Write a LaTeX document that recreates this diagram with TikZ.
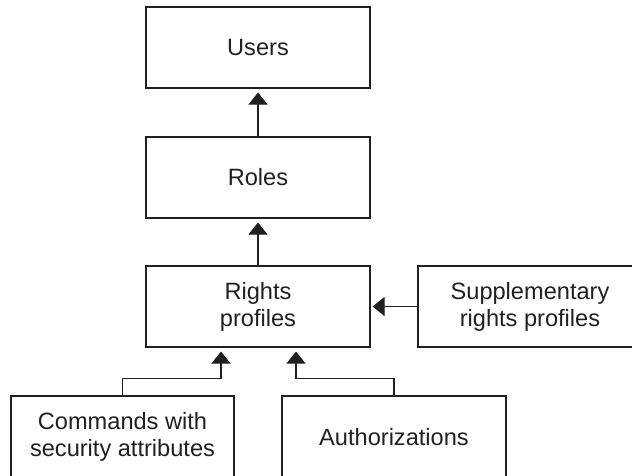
\documentclass[tikz,border=0pt]{standalone}
\usepackage{fontspec}
\setmainfont{Liberation Sans}
\usetikzlibrary{arrows.meta}
\definecolor{ink}{HTML}{231F20}
\begin{document}
\begin{tikzpicture}[x=1pt,y=-1pt,
  box/.style={draw=ink, line width=1.1pt, minimum width=224pt, minimum height=81pt,
    inner sep=0pt, align=center, text=ink, font=\fontsize{23.6}{27}\selectfont},
  link/.style={draw=ink, line width=1.1pt, -{Triangle[width=19pt,length=12pt]}, shorten >=4pt}]
\useasboundingbox (0,0) rectangle (632,475);
\clip (0,0) rectangle (632,475);
\node[box] (users) at (258,47.5) {Users};
\node[box] (roles) at (258,177.5) {Roles};
\node[box] (rights) at (258,306.5) {Rights\\profiles};
\node[box] (supp) at (530,306.5) {Supplementary\\rights profiles};
\node[box, minimum width=223pt, minimum height=82pt] (cmd) at (122.5,437) {Commands with\\security attributes};
\node[box, minimum height=82pt] (auth) at (394,437) {Authorizations};
\draw[link] (roles.north) -- (users.south);
\draw[link] (rights.north) -- (roles.south);
\draw[link, shorten >=2pt] (supp.west) -- (rights.east);
\draw[link] (cmd.north) -- ++(0,-17) -| ([xshift=-37pt]rights.south);
\draw[link] (auth.north) -- ++(0,-17) -| ([xshift=38pt]rights.south);
\end{tikzpicture}
\end{document}
